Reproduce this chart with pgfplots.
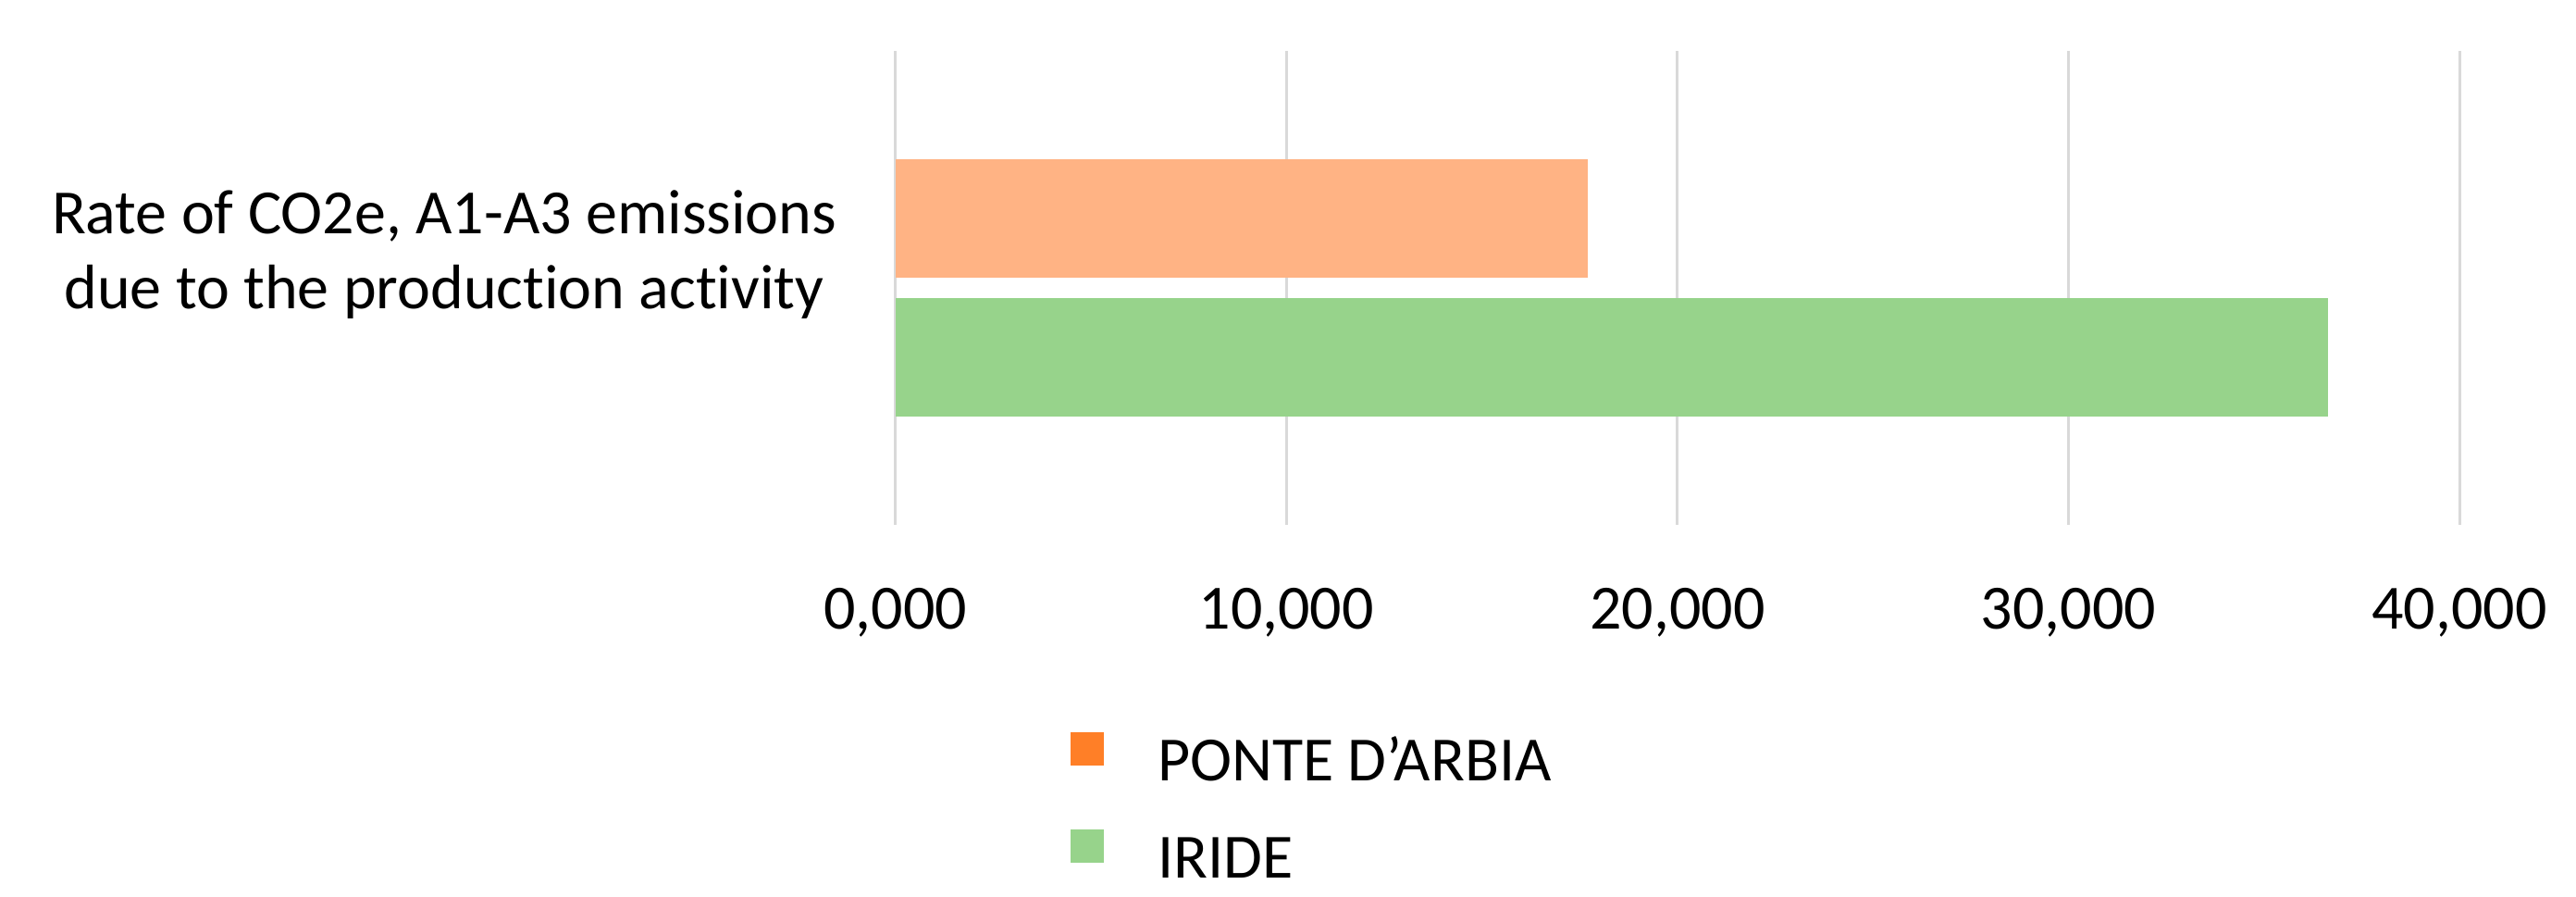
\documentclass[border=0pt]{standalone}
\usepackage{pgfplots}
\pgfplotsset{compat=1.18}
\usepackage{fontspec}
\setmainfont{Carlito}[Ligatures=CommonOff]
\definecolor{barorange}{RGB}{255,179,132}
\definecolor{bargreen}{RGB}{151,211,139}
\definecolor{legorange}{RGB}{255,127,39}
\definecolor{leggreen}{RGB}{151,211,139}
\definecolor{gridgray}{RGB}{217,217,217}
\newcommand{\chartfont}{\fontsize{17bp}{20.5bp}\selectfont}
\begin{document}
\begin{tikzpicture}
\useasboundingbox (-241.9bp,-100.5bp) rectangle (454.1bp,141.75bp);
\begin{axis}[
  at={(0,0)}, anchor=south west,
  scale only axis, width=422.6bp, height=128bp,
  xmin=0, xmax=40, ymin=-0.5, ymax=0.5,
  xtick={0,10,20,30,40}, ytick=\empty,
  xmajorgrids, grid style={gridgray, line width=0.75bp},
  axis line style={draw=none}, major tick length=0pt,
  /pgf/number format/.cd, fixed, fixed zerofill, precision=3, use comma, assume math mode=true,
  /pgfplots/.cd,
  xticklabel style={anchor=north, inner sep=0pt, yshift=-17bp, font=\chartfont},
  xbar, bar width=32bp,
  legend style={at={(0.11205,-0.4375)}, anchor=north west, draw=none, fill=none,
    inner sep=0pt, outer sep=0pt, row sep=9.25bp, column sep=14.5bp, font=\chartfont,
    nodes={inner sep=0pt, text height=12bp, text depth=4bp}},
  legend cell align=left,
]
\addplot[fill=barorange, draw=none, bar shift=18.8bp,
  legend image code/.code={\fill[legorange] (0bp,0bp) rectangle (9bp,9bp);}]
  coordinates {(17.72,0)};
\addlegendentry{PONTE D’ARBIA}
\addplot[fill=bargreen, draw=none, bar shift=-18.8bp,
  legend image code/.code={\fill[leggreen] (0bp,0bp) rectangle (9bp,9bp);}]
  coordinates {(36.63,0)};
\addlegendentry{IRIDE}
\end{axis}
\node[anchor=base, font=\chartfont, inner sep=0pt] at (-121.9bp,78.5bp) {Rate of CO2e, A1-A3 emissions};
\node[anchor=base, font=\chartfont, inner sep=0pt] at (-121.9bp,58.25bp) {due to the production activity};
\end{tikzpicture}
\end{document}
